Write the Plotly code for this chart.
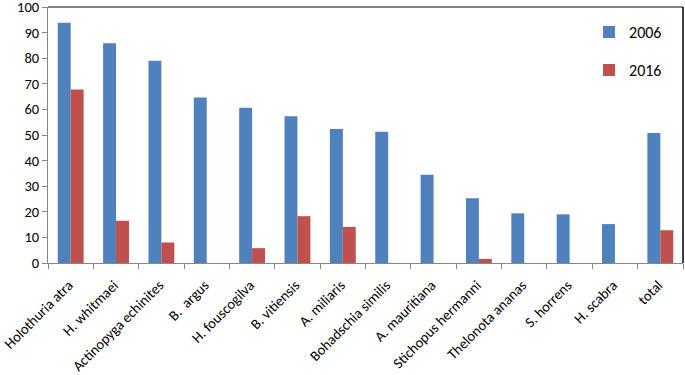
import plotly.graph_objects as go

species = ["Holothuria atra", "H. whitmaei", "Actinopyga echinites", "B.  argus",
           "H. fouscogilva", "B. vitiensis", "A. miliaris", "Bohadschia similis",
           "A. mauritiana", "Stichopus hermanni", "Thelonota ananas", "S. horrens",
           "H. scabra", "total"]
v2006 = [93.8, 85.8, 79.0, 64.6, 60.6, 57.3, 52.3, 51.3, 34.5, 25.3, 19.4, 19.0, 15.2, 50.8]
v2016 = [67.8, 16.5, 8.0, 0, 5.8, 18.3, 14.1, 0, 0, 1.6, 0, 0, 0, 12.8]

FONT = "Carlito, Lato, 'Open Sans', sans-serif"

fig = go.Figure()
fig.add_bar(x=species, y=v2006, name="2006", marker=dict(color="#4F81BD", line=dict(width=0)),
            legendgroup="a")
fig.add_bar(x=species, y=v2016, name="2016", marker=dict(color="#C0504D", line=dict(width=0)),
            legendgroup="b")

fig.update_layout(
    width=685, height=375,
    margin=dict(l=48, r=2, t=7, b=112),
    paper_bgcolor="white", plot_bgcolor="white",
    barmode="group", bargap=0.43, bargroupgap=0,
    font=dict(family=FONT, size=13, color="black"),
    legend=dict(x=0.852, y=0.968, xanchor="left", yanchor="top",
                font=dict(size=16, family=FONT), tracegroupgap=14,
                bgcolor="rgba(0,0,0,0)", itemwidth=30),
    showlegend=True,
)
fig.update_xaxes(
    showline=True, linecolor="#868686", linewidth=1, automargin=False,
    ticks="outside", ticklen=5, tickcolor="#868686", tickson="boundaries",
    tickangle=-45, tickfont=dict(size=14.5, family=FONT), showgrid=False,
    ticklabelshift=-2, ticklabelstandoff=7,
)
fig.update_yaxes(
    range=[0, 100], dtick=10, showline=True, linecolor="#868686", linewidth=1,
    automargin=False, ticklabeloverflow="allow",
    ticks="outside", ticklen=5, tickcolor="#868686",
    tickfont=dict(size=14.5, family=FONT), showgrid=False, zeroline=False,
)
fig.add_shape(type="line", xref="paper", yref="paper", x0=0, x1=1, y0=1, y1=1,
              line=dict(color="#595959", width=1.5))
fig.add_shape(type="line", xref="paper", yref="paper", x0=1, x1=1, y0=0, y1=1,
              line=dict(color="black", width=1.5))

fig.write_html("out.html", config={"displayModeBar": False})
with open("out.html", encoding="utf-8") as f:
    html = f.read()
html = html.replace("<body>", '<body style="margin:0;padding:0;overflow:hidden">', 1)
with open("out.html", "w", encoding="utf-8") as f:
    f.write(html)
